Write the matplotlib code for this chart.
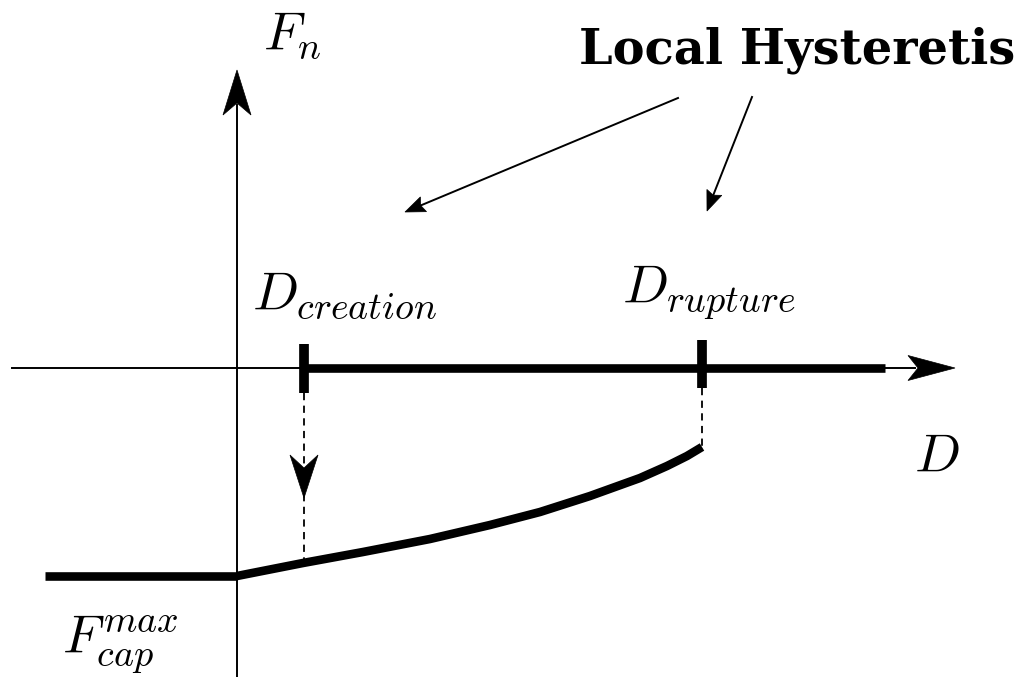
import numpy as np
import matplotlib
matplotlib.use("Agg")
import matplotlib.pyplot as plt
from matplotlib.patches import Polygon

plt.rcParams['mathtext.fontset'] = 'cm'

# Diagram units: origin at the crossing of the D and F_n axes, F positive upwards
D_creation = 67
D_rupture = 465
D_axis_start = -225
D_axis_end = 648          # end of the thick segment on the D axis
D_arrow_tip = 718
F_axis_top = 298
F_cap = -208

# flat part before the origin (F = F_cap)
D_flat = [-192, 0]
F_flat = [F_cap, F_cap]

# softening curve from the origin up to the rupture point
D_curve = [0, 66, 126, 193, 253, 303, 353, 403, 430, 450, 465]
F_curve = [-208, -195, -184, -171, -157, -144, -128, -110, -98, -88, -79]

# pointer arrows from the title: (start, tip)
pointers = [((441, 270), (168, 156)),
            ((515, 271), (470, 157))]


def stealth(ax, tip, direction, length, half_w, notch):
    """Filled arrowhead with a concave back, tip at `tip` pointing along `direction`."""
    d = np.asarray(direction, float)
    d /= np.linalg.norm(d)
    n = np.array([-d[1], d[0]])
    t = np.asarray(tip, float)
    base = t - d * length
    pts = [t, base + n * half_w, t - d * notch, base - n * half_w]
    ax.add_patch(Polygon(pts, closed=True, facecolor='black', edgecolor='black',
                         linewidth=0.5, zorder=5))


fig = plt.figure(figsize=(10.15, 6.77), dpi=100)
ax = fig.add_axes([0, 0, 1, 1])
ax.set_xlim(-237, 778)
ax.set_ylim(-309, 368)
ax.axis('off')

# axes
ax.plot([D_axis_start, D_arrow_tip - 40], [0, 0], color='black', lw=1.4)
stealth(ax, (D_arrow_tip, 0), (1, 0), 47, 12.5, 37)
ax.plot([0, 0], [-309, F_axis_top - 35], color='black', lw=1.4)
stealth(ax, (0, F_axis_top), (0, 1), 45, 14, 33)

# thick segment on the D axis and the two ticks
ax.plot([D_creation, D_axis_end], [0, 0], color='black', lw=6.2, solid_capstyle='butt')
ax.plot([D_creation, D_creation], [-25, 24], color='black', lw=7, solid_capstyle='butt')
ax.plot([D_rupture, D_rupture], [-20, 28], color='black', lw=7, solid_capstyle='butt')

# force curve
ax.plot(D_flat, F_flat, color='black', lw=6.2, solid_capstyle='butt')
ax.plot(D_curve, F_curve, color='black', lw=6.2, solid_capstyle='butt',
        solid_joinstyle='round')

# dashed guides
ax.plot([D_creation, D_creation], [-25, F_curve[1]], color='black', lw=1.3,
        linestyle=(0, (4, 3)))
stealth(ax, (D_creation, -130), (0, -1), 43, 14, 30)
ax.plot([D_rupture, D_rupture], [-20, F_curve[-1]], color='black', lw=1.3,
        linestyle=(0, (4, 3)))

# pointer arrows
for (x0, y0), (x1, y1) in pointers:
    d = np.array([x1 - x0, y1 - y0], float)
    u = d / np.linalg.norm(d)
    ax.plot([x0, x1 - u[0] * 12], [y0, y1 - u[1] * 12], color='black', lw=1.4)
    stealth(ax, (x1, y1), d, 20, 8, 17)

# labels
fs = 39
ax.text(26, 318, r'$F_n$', fontsize=fs, ha='left', va='baseline')
ax.text(15, 58, r'$D_{creation}$', fontsize=fs, ha='left', va='baseline')
ax.text(385, 65, r'$D_{rupture}$', fontsize=fs, ha='left', va='baseline')
ax.text(677, -104, r'$D$', fontsize=fs, ha='left', va='baseline')
ax.text(-175, -285, r'$F_{cap}^{max}$', fontsize=fs, ha='left', va='baseline')
ax.text(342, 305, 'Local Hysteretis', fontsize=34.5, fontweight='bold',
        family='DejaVu Serif', ha='left', va='baseline')

fig.savefig('out.png', dpi=100)
